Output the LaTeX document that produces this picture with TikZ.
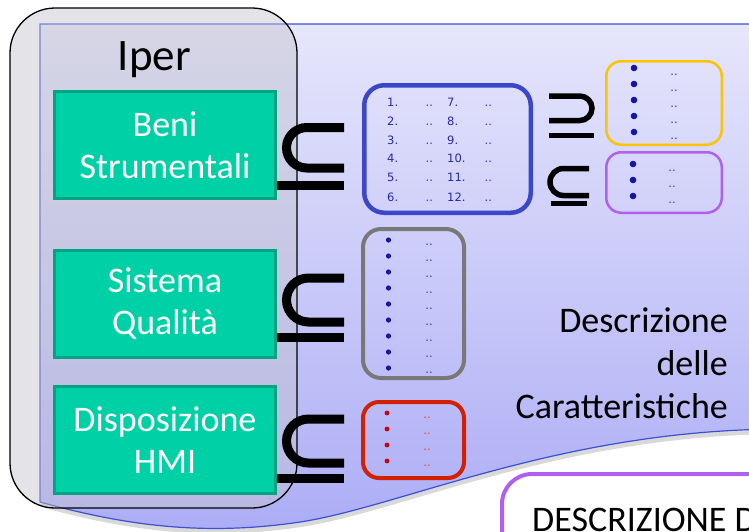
\documentclass[tikz,border=0pt]{standalone}
\usepackage{fontspec}
\setmainfont{Carlito}
\newfontfamily\listfont{DejaVu Sans}
\usetikzlibrary{shadows}
\definecolor{lavtop}{RGB}{230,230,252}
\definecolor{lavbot}{RGB}{172,172,246}
\definecolor{waveblue}{RGB}{60,80,210}
\definecolor{iperfill}{RGB}{195,195,205}
\definecolor{gboxfill}{RGB}{0,208,165}
\definecolor{gboxline}{RGB}{0,163,130}
\definecolor{listblue}{RGB}{58,72,200}
\definecolor{numblue}{RGB}{40,40,165}
\definecolor{dotblue}{RGB}{45,60,200}
\definecolor{bulblue}{RGB}{20,20,170}
\definecolor{yellowc}{RGB}{250,196,0}
\definecolor{purplec}{RGB}{176,96,240}
\definecolor{grayc}{RGB}{120,120,120}
\definecolor{redc}{RGB}{210,32,0}
\definecolor{redbul}{RGB}{200,0,20}
\definecolor{reddots}{RGB}{230,70,50}
\tikzset{
  bigtext/.style={font=\fontsize{36}{43}\selectfont},
  iperbox/.style={draw=black, line width=1.3pt, fill=iperfill, fill opacity=0.45,
    rounded corners=45pt, minimum width=287pt, minimum height=500pt, inner sep=0pt},
  greenbox/.style={draw=gboxline, fill=gboxfill, line width=3pt, minimum width=221pt,
    minimum height=107pt, text=white, align=center, inner sep=0pt,
    font=\fontsize{36}{42}\selectfont},
  listbox/.style={line width=4.5pt, rounded corners=20pt, inner sep=0pt},
  thinbox/.style={line width=2.5pt, rounded corners=15pt, inner sep=0pt},
  subsetsym/.style={draw=black, line width=9pt},
  smallsym/.style={draw=black, line width=5.5pt},
  listtxt/.style={font=\listfont\fontsize{11.5}{14}\selectfont, inner sep=0pt,
    anchor=base west, text=numblue},
  dotstxt/.style={font=\listfont\fontsize{11.5}{14}\selectfont, inner sep=0pt,
    anchor=base, text=dotblue},
}
\begin{document}
\begin{tikzpicture}[x=1pt,y=-1pt]
\useasboundingbox (0,0) rectangle (749,531);
\clip (0,0) rectangle (749,531);
% background wave
\path[draw=waveblue, line width=1.2pt, top color=lavtop, bottom color=lavbot,
  drop shadow={shadow xshift=1pt, shadow yshift=-5pt, opacity=0.3}]
  (40,24) -- (780,24) -- (780,429)
  .. controls (560,430) and (400,507) .. (300,522)
  .. controls (200,537) and (120,524) .. (40,502) -- cycle;
% Iper container
\node[iperbox] (iper) at (153.5,258) {};
\node[font=\fontsize{45}{54}\selectfont, anchor=base, inner sep=0pt] (iperlabel) at (154.5,70) {Iper};
% green boxes
\node[greenbox] (beni) at (165,145) {Beni\\Strumentali};
\node[greenbox] (sistema) at (165,303.5) {Sistema\\Qualità};
\node[greenbox] (hmi) at (165,440) {Disposizione\\HMI};
% subset symbols
\draw[subsetsym, rounded corners=20.25pt] (344,127.5) -- (286.5,127.5) -- (286.5,168) -- (344,168);
\draw[subsetsym] (277,185) -- (344,185);
\draw[subsetsym, rounded corners=22pt] (344,278) -- (286.5,278) -- (286.5,322) -- (344,322);
\draw[subsetsym] (277,337) -- (344,337);
\draw[subsetsym, rounded corners=22pt] (344,419) -- (286.5,419) -- (286.5,463) -- (344,463);
\draw[subsetsym] (277,478) -- (344,478);
% supseteq and subseteq small
\draw[smallsym, rounded corners=12.25pt] (549,96) -- (592,96) -- (592,120.5) -- (549,120.5);
\draw[smallsym] (549,135.5) -- (594,135.5);
\draw[smallsym, rounded corners=13.5pt] (589,168.5) -- (550,168.5) -- (550,195.5) -- (589,195.5);
\draw[smallsym] (551,203.5) -- (587,203.5);
% numbered list box
\node[listbox, draw=listblue, minimum width=166.5pt, minimum height=127.5pt] (numlist) at (447.5,149) {};
\foreach \n/\m/\y in {1/7/106,2/8/125,3/9/144,4/10/162,5/11/181,6/12/201}{
  \node[listtxt] (na\n) at (387,\y) {\n.};
  \node[listtxt, text=dotblue] (da\n) at (425.5,\y) {..};
  \node[listtxt] (nb\n) at (447,\y) {\m.};
  \node[listtxt, text=dotblue] (db\n) at (484.5,\y) {..};
}
% yellow box
\node[thinbox, draw=yellowc, minimum width=115.5pt, minimum height=83.5pt] (ybox) at (664,103) {};
\foreach \i/\y in {1/68,2/84,3/100,4/116,5/132}{
  \fill[bulblue] (634,\y) circle[radius=3.3pt];
  \node[dotstxt] (yd\i) at (674,\y+7.2) {..};
}
% purple small box
\node[thinbox, draw=purplec, minimum width=115.5pt, minimum height=60.5pt] (pbox) at (664,182.5) {};
\foreach \i/\y in {1/164,2/180,3/196}{
  \fill[bulblue] (633,\y) circle[radius=3.3pt];
  \node[dotstxt] (pd\i) at (672,\y+7.2) {..};
}
% gray box
\node[listbox, draw=grayc, line width=4pt, rounded corners=18pt, minimum width=101pt, minimum height=149pt] (gbox) at (413.5,303.5) {};
\foreach \i in {0,...,8}{
  \fill[bulblue] (388.5,240+16*\i) circle[radius=2.6pt];
  \node[dotstxt] (gd\i) at (429,245.5+16*\i) {..};
}
% red box
\node[listbox, draw=redc, line width=4pt, rounded corners=16pt, minimum width=101pt, minimum height=76pt] (rbox) at (413.5,440) {};
\foreach \i/\y in {1/413,2/429,3/445,4/461}{
  \fill[redbul] (387,\y) circle[radius=2.4pt];
  \node[dotstxt, text=reddots] (rd\i) at (427,\y+5.5) {..};
}
% description text
\node[bigtext, align=right, anchor=base east, inner sep=0pt] (descr) at (728,418) {Descrizione\\delle\\Caratteristiche};
% bottom box
\node[draw=purplec, line width=4pt, fill=white, rounded corners=30pt, minimum width=318pt, minimum height=146pt, inner sep=0pt] (bottombox) at (661,547) {};
\node[bigtext, anchor=base west, inner sep=0pt] (bottomtext) at (532,531) {DESCRIZIONE D};
\end{tikzpicture}
\end{document}
